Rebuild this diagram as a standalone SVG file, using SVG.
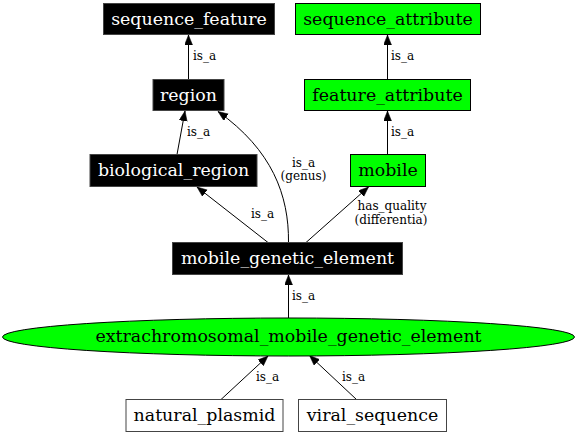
<svg xmlns="http://www.w3.org/2000/svg" width="576" height="435" viewBox="0 0 576 435">
<style>
.bn rect{fill:#000;stroke:#444;stroke-width:1}
.gn rect,.gn ellipse{fill:#00ff00;stroke:#000;stroke-width:1}
.wn rect{fill:#fff;stroke:#444;stroke-width:1}
.nt{font-family:"DejaVu Serif",serif;font-size:17.4px;text-anchor:middle}
.bn text{fill:#fff}
.gn text,.wn text{fill:#000}
.el{font-family:"DejaVu Serif",serif;font-size:12px;fill:#000}
.em{text-anchor:middle}
#edges path{fill:none;stroke:#000;stroke-width:1;marker-end:url(#ah)}
</style>
<defs>
<marker id="ah" markerUnits="userSpaceOnUse" markerWidth="12" markerHeight="10" refX="10" refY="4" orient="auto">
<path d="M0,0 L10,4 L0,8 Z" fill="#000" stroke="#000" stroke-width="0.5"/>
</marker>
</defs>
<g id="edges">
<path d="M188.5,79.5 L188.5,35"/>
<path d="M387.5,79.5 L387.5,35"/>
<path d="M177,154.5 L185,111"/>
<path d="M387.5,154.5 L387.5,111"/>
<path d="M268,242.5 L197,187"/>
<path d="M288.5,242.5 C289,195 272,150 218,111.5"/>
<path d="M306,242.5 L368.5,187"/>
<path d="M288.5,318 L288.5,275"/>
<path d="M221,399.5 L268,356"/>
<path d="M356.5,399.5 L309.5,355.5"/>
<text class="el" x="193" y="60">is_a</text>
<text class="el" x="391" y="60">is_a</text>
<text class="el" x="187" y="136">is_a</text>
<text class="el" x="391" y="136">is_a</text>
<text class="el em" x="303.5" y="166.5">is_a</text>
<text class="el em" x="303.5" y="179.5">(genus)</text>
<text class="el" x="251" y="218">is_a</text>
<text class="el em" x="392" y="210">has_quality</text>
<text class="el em" x="391" y="223.5">(differentia)</text>
<text class="el" x="292" y="300">is_a</text>
<text class="el" x="256" y="381">is_a</text>
<text class="el" x="342" y="381">is_a</text>
</g>
<g id="sequence_feature" class="bn"><rect x="103.5" y="3.5" width="171" height="31"/><text class="nt" x="189" y="25">sequence_feature</text></g>
<g id="sequence_attribute" class="gn"><rect x="295.5" y="3.5" width="185" height="31"/><text class="nt" x="388" y="25">sequence_attribute</text></g>
<g id="region" class="bn"><rect x="153" y="79.5" width="71" height="31"/><text class="nt" x="188.5" y="101">region</text></g>
<g id="feature_attribute" class="gn"><rect x="304.5" y="79.5" width="166" height="31"/><text class="nt" x="387.5" y="101">feature_attribute</text></g>
<g id="biological_region" class="bn"><rect x="90" y="154.5" width="167" height="32"/><text class="nt" x="173.5" y="176">biological_region</text></g>
<g id="mobile" class="gn"><rect x="350.5" y="154.5" width="75" height="32"/><text class="nt" x="388" y="176">mobile</text></g>
<g id="mobile_genetic_element" class="bn"><rect x="172.5" y="242.5" width="230" height="32"/><text class="nt" x="287.5" y="264">mobile_genetic_element</text></g>
<g id="extrachromosomal_mobile_genetic_element" class="gn"><ellipse cx="288.5" cy="337" rx="286" ry="19"/><text class="nt" x="288.5" y="342">extrachromosomal_mobile_genetic_element</text></g>
<g id="natural_plasmid" class="wn"><rect x="126" y="399.5" width="157" height="32"/><text class="nt" x="204.5" y="421">natural_plasmid</text></g>
<g id="viral_sequence" class="wn"><rect x="298.5" y="399.5" width="148" height="32"/><text class="nt" x="372.5" y="421">viral_sequence</text></g>
</svg>
